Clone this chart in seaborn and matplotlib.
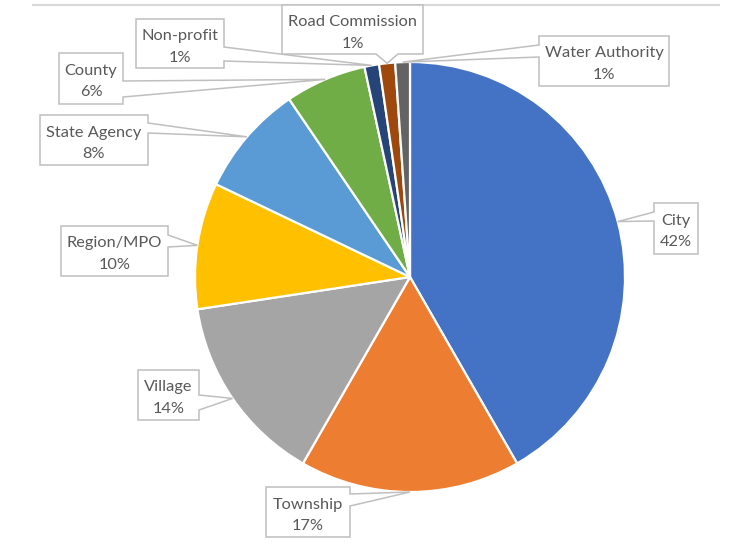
import numpy as np
import matplotlib
matplotlib.use("Agg")
import matplotlib.pyplot as plt
from matplotlib.patches import Polygon
import seaborn as sns

# ---- data ----
categories = ["City", "Township", "Village", "Region/MPO", "State Agency",
              "County", "Non-profit", "Road Commission", "Water Authority"]
shares = [41.7, 16.6, 14.3, 9.5, 8.4, 6.1, 1.1, 1.2, 1.1]
pct_labels = ["42%", "17%", "14%", "10%", "8%", "6%", "1%", "1%", "1%"]
colors = ["#4472C4", "#ED7D31", "#A5A5A5", "#FFC000", "#5B9BD5",
          "#70AD47", "#264478", "#9E480E", "#636363"]

# ---- layout (pixel coords, origin top-left) ----
W, H = 737, 547
CX, CY, R = 410, 277, 215
# box: x0, x1, y0, y1 ; side of pointer ; pointer base range
boxes = [
    (654, 698, 203, 254, "left", (212, 221)),
    (266, 350, 487, 537, "right", (494, 506)),
    (138, 199, 370, 420, "right", (395, 410)),
    (61, 168, 226, 276, "right", (235, 247)),
    (40, 148, 115, 165, "right", (123, 133)),
    (59, 123, 53, 104, "right", (81, 97)),
    (136, 224, 19, 68, "right", (47, 61)),
    (282, 423, 5, 54, "bottom", (376, 398)),
    (539, 669, 36, 86, "left", (45, 57)),
]

sns.set_theme(style="white")
plt.rcParams["font.family"] = ["Lato", "DejaVu Sans"]

fig = plt.figure(figsize=(W / 100, H / 100), dpi=100)
ax = fig.add_axes([0, 0, 1, 1])

ax.pie(shares, colors=colors, startangle=90, counterclock=False,
       radius=R, center=(CX, H - CY),
       wedgeprops=dict(edgecolor="white", linewidth=1.6, antialiased=True))

ax.set_xlim(0, W)
ax.set_ylim(0, H)
ax.set_aspect("equal")
ax.axis("off")

# top border line
ax.plot([32, 720], [H - 5, H - 5], color="#D9D9D9", lw=1.6, solid_capstyle="butt")

total = float(sum(shares))
cum = 0.0
for i, v in enumerate(shares):
    mid = (cum + v / 2.0) / total
    cum += v
    th = np.deg2rad(90 - 360 * mid)
    tx, ty = CX + R * np.cos(th), CY - R * np.sin(th)
    x0, x1, y0, y1, side, (b0, b1) = boxes[i]
    tip = (tx, ty)
    if side == "left":
        pts = [(x0, y0), (x1, y0), (x1, y1), (x0, y1), (x0, b1), tip, (x0, b0)]
    elif side == "right":
        pts = [(x0, y0), (x1, y0), (x1, b0), tip, (x1, b1), (x1, y1), (x0, y1)]
    elif side == "bottom":
        pts = [(x0, y0), (x1, y0), (x1, y1), (b1, y1), tip, (b0, y1), (x0, y1)]
    else:
        pts = [(x0, y0), (b0, y0), tip, (b1, y0), (x1, y0), (x1, y1), (x0, y1)]
    pts = [(px, H - py) for px, py in pts]
    ax.add_patch(Polygon(pts, closed=True, facecolor="white",
                         edgecolor="#BFBFBF", lw=1.1, zorder=5, joinstyle="miter"))
    cxb = (x0 + x1) / 2.0
    cyb = (y0 + y1) / 2.0
    ax.text(cxb, H - (cyb - 3.5), categories[i], ha="center", va="baseline",
            fontsize=11.8, color="#595959", zorder=6)
    ax.text(cxb, H - (cyb + 18), pct_labels[i], ha="center", va="baseline",
            fontsize=11.8, color="#595959", zorder=6)

fig.savefig("out.png", dpi=100, facecolor="white")
